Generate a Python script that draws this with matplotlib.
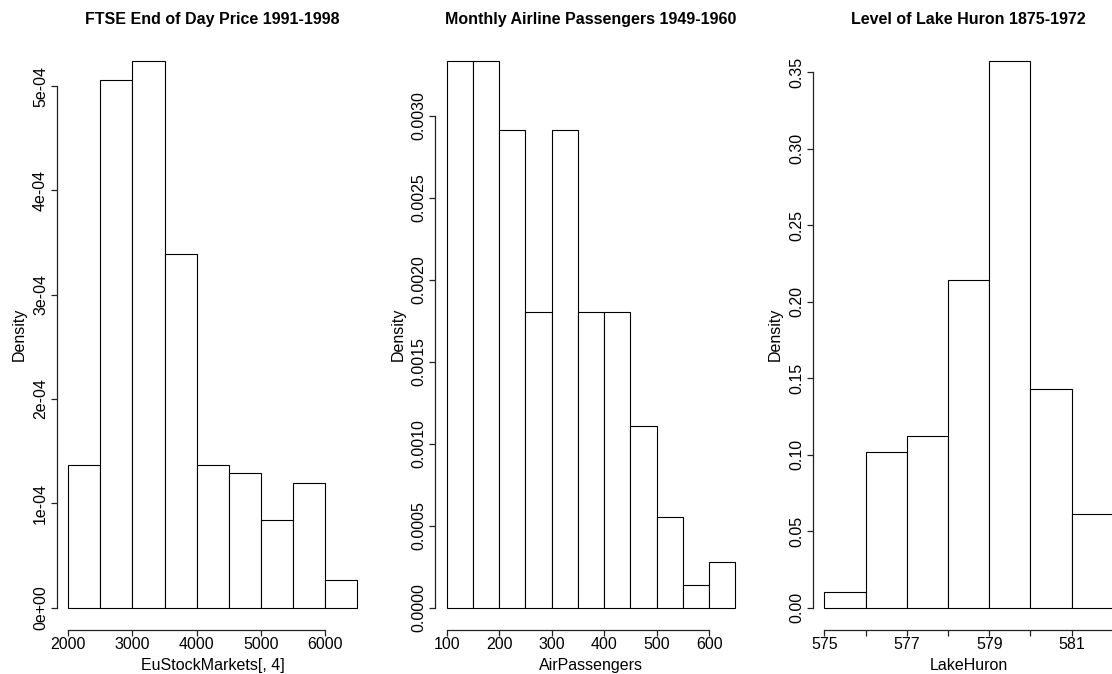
import numpy as np
import matplotlib
matplotlib.use("Agg")
import matplotlib.pyplot as plt

plt.rcParams['font.family'] = ['Liberation Sans', 'DejaVu Sans']

# ---- data: bin edges and counts ----
ftse_breaks = [2000, 2500, 3000, 3500, 4000, 4500, 5000, 5500, 6000, 6500]
ftse_counts = [127, 470, 487, 315, 127, 120, 78, 111, 25]
ftse_xticks = [2000, 3000, 4000, 5000, 6000]
ftse_yticks = [0, 1e-4, 2e-4, 3e-4, 4e-4, 5e-4]
ftse_ylabels = ["0e+00", "1e-04", "2e-04", "3e-04", "4e-04", "5e-04"]

air_breaks = [100, 150, 200, 250, 300, 350, 400, 450, 500, 550, 600, 650]
air_counts = [24, 24, 21, 13, 21, 13, 13, 8, 4, 1, 2]
air_xticks = [100, 200, 300, 400, 500, 600]
air_yticks = [0, 0.0005, 0.0010, 0.0015, 0.0020, 0.0025, 0.0030]
air_ylabels = ["0.0000", "0.0005", "0.0010", "0.0015", "0.0020", "0.0025", "0.0030"]

lake_breaks = [575, 576, 577, 578, 579, 580, 581, 582]
lake_counts = [1, 10, 11, 21, 35, 14, 6]
lake_xticks = [575, 576, 577, 578, 579, 580, 581, 582]
lake_xlabels = ["575", "", "577", "", "579", "", "581", ""]
lake_yticks = [0, 0.05, 0.10, 0.15, 0.20, 0.25, 0.30, 0.35]
lake_ylabels = ["0.00", "0.05", "0.10", "0.15", "0.20", "0.25", "0.30", "0.35"]

titles = ["FTSE End of Day Price 1991-1998",
          "Monthly Airline Passengers 1949-1960",
          "Level of Lake Huron 1875-1972"]
xlabels = ["EuStockMarkets[, 4]", "AirPassengers", "LakeHuron"]

panels = [
    (ftse_breaks, ftse_counts, ftse_xticks, None, ftse_yticks, ftse_ylabels),
    (air_breaks, air_counts, air_xticks, None, air_yticks, air_ylabels),
    (lake_breaks, lake_counts, lake_xticks, lake_xlabels, lake_yticks, lake_ylabels),
]

W, H = 1112, 674
fig = plt.figure(figsize=(W / 100, H / 100), dpi=100)
fig.patch.set_facecolor("white")

lefts_px = [56.8, 435.2, 812.8]
width_px = 311.7
top_px, bottom_px = 39.5, 629.6

FS = 11.5
axis_col = "#222222"

for i, (breaks, counts, xt, xtl, yt, ytl) in enumerate(panels):
    ax = fig.add_axes([lefts_px[i] / W, 1 - bottom_px / H,
                       width_px / W, (bottom_px - top_px) / H])
    breaks = np.asarray(breaks, float)
    counts = np.asarray(counts, float)
    widths = np.diff(breaks)
    dens = counts / (counts.sum() * widths)
    ax.bar(breaks[:-1], dens, width=widths, align="edge",
           facecolor="white", edgecolor="black", linewidth=0.8)

    xr = breaks[-1] - breaks[0]
    ax.set_xlim(breaks[0] - 0.04 * xr, breaks[-1] + 0.04 * xr)
    ym = dens.max()
    ax.set_ylim(-0.04 * ym, ym * 1.04)

    ax.set_xticks(xt)
    if xtl is not None:
        ax.set_xticklabels(xtl)
    else:
        ax.set_xticklabels([str(v) for v in xt])
    ax.set_yticks(yt)
    ax.set_yticklabels(ytl, rotation=90, va="center")

    for s in ["top", "right"]:
        ax.spines[s].set_visible(False)
    ax.spines["left"].set_bounds(yt[0], yt[-1])
    ax.spines["bottom"].set_bounds(xt[0], xt[-1])
    for s in ["left", "bottom"]:
        ax.spines[s].set_color(axis_col)
        ax.spines[s].set_linewidth(0.9)

    ax.tick_params(axis="both", direction="out", length=4.3, width=0.9,
                   color=axis_col, labelsize=FS, labelcolor="black")
    ax.tick_params(axis="x", pad=1.0)
    ax.tick_params(axis="y", pad=2.0)

    ax.set_title(titles[i], fontsize=FS, fontweight="bold", pad=11.2)
    ax.set_xlabel(xlabels[i], fontsize=FS, va="baseline")
    ax.xaxis.set_label_coords(0.5, -(670 - bottom_px) / (bottom_px - top_px))
    ax.set_ylabel("Density", fontsize=FS, va="baseline")
    ax.yaxis.set_label_coords(-32.8 / width_px, 0.5)
    ax.set_facecolor("white")

fig.savefig("out.png", dpi=100, facecolor="white")
